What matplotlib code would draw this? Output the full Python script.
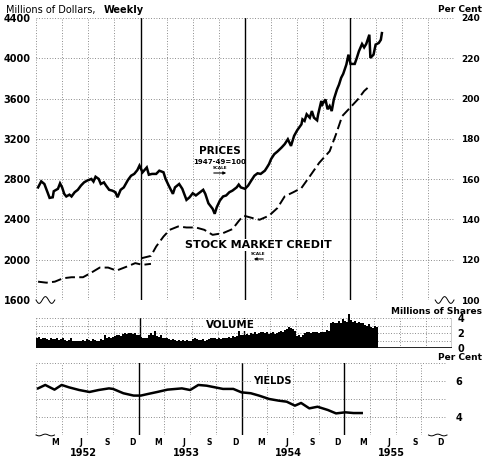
import numpy as np
import matplotlib.pyplot as plt

# ---- data ----
# common stock prices, 1947-49=100, weekly (right scale)
price_dates = [
    1952.02, 1952.05, 1952.08, 1952.11, 1952.13, 1952.16, 1952.17, 1952.21, 1952.23, 1952.25,
    1952.27, 1952.29, 1952.32, 1952.34, 1952.37, 1952.40, 1952.43, 1952.46, 1952.49, 1952.53,
    1952.55, 1952.57, 1952.60, 1952.62, 1952.65, 1952.67, 1952.70, 1952.73, 1952.76, 1952.78,
    1952.81, 1952.84, 1952.88, 1952.91, 1952.94, 1952.97, 1952.99, 1953.02, 1953.06, 1953.08,
    1953.11, 1953.15, 1953.18, 1953.22, 1953.24, 1953.27, 1953.31, 1953.33, 1953.37, 1953.40,
    1953.44, 1953.47, 1953.50, 1953.53, 1953.57, 1953.60, 1953.62, 1953.65, 1953.69, 1953.71,
    1953.73, 1953.76, 1953.79, 1953.82, 1953.85, 1953.88, 1953.92, 1953.94, 1953.96, 1954.00,
    1954.03, 1954.06, 1954.09, 1954.12, 1954.15, 1954.19, 1954.21, 1954.23, 1954.25, 1954.28,
    1954.31, 1954.35, 1954.38, 1954.41, 1954.44, 1954.47, 1954.50, 1954.54, 1954.55, 1954.57,
    1954.59, 1954.62, 1954.64, 1954.66, 1954.69, 1954.70, 1954.73, 1954.74, 1954.77, 1954.79,
    1954.81, 1954.83, 1954.85, 1954.88, 1954.90, 1954.92, 1954.94, 1954.97, 1954.99, 1955.01,
    1955.05, 1955.07, 1955.09, 1955.12, 1955.14, 1955.16, 1955.19, 1955.20, 1955.23, 1955.25,
    1955.28, 1955.30, 1955.31]
price_vals = [
    155.9, 158.9, 157.6, 153.5, 150.7, 151.0, 154.0, 155.2, 157.9, 155.9,
    152.7, 151.4, 152.3, 151.4, 153.5, 154.7, 156.8, 158.4, 159.3, 160.1,
    158.8, 161.2, 160.1, 157.6, 158.4, 156.8, 154.7, 154.3, 153.5, 151.0,
    154.7, 155.9, 159.6, 161.7, 162.6, 164.5, 166.7, 163.4, 165.8, 162.2,
    162.6, 162.6, 164.2, 163.4, 160.1, 156.8, 152.7, 155.9, 157.6, 155.2,
    149.7, 151.0, 153.0, 151.9, 153.5, 154.7, 152.7, 148.0, 145.3, 142.8,
    146.1, 149.4, 151.4, 151.9, 153.5, 154.3, 155.9, 157.3, 155.9, 155.2,
    156.8, 159.3, 161.7, 162.9, 162.6, 164.2, 165.8, 167.5, 170.0, 172.4,
    173.7, 175.7, 177.4, 179.8, 176.5, 181.5, 184.3, 187.2, 189.7, 188.9,
    192.2, 190.5, 193.8, 190.5, 189.2, 192.2, 198.8, 197.1, 199.6, 194.7,
    196.3, 193.8, 199.6, 204.5, 207.0, 210.3, 212.3, 216.9, 221.8, 217.2,
    217.2, 220.2, 223.5, 227.1, 225.4, 227.1, 231.7, 220.2, 221.8, 226.8,
    227.6, 229.2, 232.5]

# stock market credit, millions of dollars (left scale); old and revised series
credit_old_dates = [1952.02, 1952.10, 1952.18, 1952.26, 1952.34, 1952.45, 1952.52,
                    1952.61, 1952.69, 1952.77, 1952.87, 1952.95, 1953.02, 1953.10]
credit_old_vals = [1782, 1772, 1782, 1816, 1826, 1826, 1866,
                   1922, 1922, 1892, 1932, 1966, 1949, 1959]
credit_new_dates = [1953.01, 1953.10, 1953.15, 1953.22, 1953.28, 1953.36, 1953.44, 1953.53,
                    1953.61, 1953.69, 1953.79, 1953.88, 1953.95, 1953.99, 1954.07, 1954.14,
                    1954.23, 1954.31, 1954.38, 1954.46, 1954.54, 1954.62, 1954.71, 1954.81,
                    1954.87, 1954.93, 1954.99, 1955.08, 1955.14, 1955.20]
credit_new_vals = [2015, 2038, 2131, 2230, 2297, 2330, 2320, 2320,
                   2297, 2247, 2264, 2304, 2397, 2437, 2414, 2397,
                   2437, 2513, 2629, 2669, 2712, 2828, 2962, 3077,
                   3243, 3426, 3492, 3592, 3675, 3731]

# weekly trading volume, millions of shares
vol_1952 = [1.3, 1.5, 1.2, 1.4, 1.3, 1.2, 1.1, 1.3, 1.2, 1.2, 1.3, 1.1, 1.2,
            1.3, 1.1, 1.0, 1.1, 1.3, 1.0, 0.9, 1.0, 1.0, 1.0, 1.1, 1.0, 1.2,
            1.1, 1.0, 1.2, 1.1, 0.9, 1.0, 1.2, 1.1, 1.7, 1.3, 1.5, 1.4, 1.5,
            1.6, 1.7, 1.8, 1.6, 1.9, 2.0, 1.9, 2.0, 2.0, 1.9, 2.0, 1.8, 1.7]
vol_1953 = [1.5, 1.4, 1.3, 1.4, 1.8, 2.0, 1.7, 2.3, 1.6, 1.5, 1.7, 1.4, 1.3,
            1.3, 1.2, 1.1, 1.2, 1.1, 1.0, 1.1, 1.0, 1.1, 1.0, 1.1, 1.0, 1.0,
            1.2, 1.3, 1.2, 1.1, 1.1, 1.2, 1.0, 1.1, 1.2, 1.4, 1.3, 1.3, 1.2,
            1.3, 1.2, 1.4, 1.3, 1.4, 1.5, 1.4, 1.6, 1.5, 1.6, 2.4, 1.7, 1.8]
vol_1954 = [1.8, 1.9, 1.7, 2.0, 1.9, 2.1, 1.9, 2.0, 2.1, 2.2, 2.0, 2.1, 1.9,
            2.0, 2.1, 1.9, 2.0, 2.2, 2.3, 2.1, 2.4, 2.6, 2.8, 2.7, 2.5, 2.3,
            1.6, 1.7, 1.5, 1.8, 2.0, 2.1, 2.2, 2.0, 2.1, 2.1, 2.2, 2.0, 2.1,
            2.2, 2.2, 2.4, 2.3, 3.3, 3.5, 3.4, 3.3, 3.6, 3.4, 3.9, 3.6, 3.5]
vol_1955 = [4.6, 3.7, 3.5, 3.6, 3.4, 3.5, 3.3, 3.4, 3.1, 2.9, 3.2, 2.8, 2.7,
            3.0, 2.8]

# yields on common stocks, per cent, monthly
yield_dates = [1952.02, 1952.09, 1952.18, 1952.25, 1952.32, 1952.42, 1952.52, 1952.61,
               1952.71, 1952.75, 1952.85, 1952.95, 1953.02, 1953.09, 1953.18, 1953.28,
               1953.42, 1953.50, 1953.58, 1953.66, 1953.74, 1953.82, 1953.92, 1954.00,
               1954.09, 1954.17, 1954.27, 1954.36, 1954.44, 1954.52, 1954.58, 1954.66,
               1954.74, 1954.84, 1954.92, 1955.01, 1955.09, 1955.17]
yield_vals = [5.59, 5.78, 5.52, 5.78, 5.65, 5.50, 5.39, 5.50, 5.59, 5.56, 5.32, 5.19,
              5.19, 5.28, 5.39, 5.52, 5.59, 5.50, 5.78, 5.74, 5.65, 5.56, 5.56,
              5.37, 5.32, 5.19, 5.00, 4.91, 4.85, 4.63, 4.78, 4.48, 4.57, 4.39, 4.20,
              4.26, 4.22, 4.22]

years = [1952, 1953, 1954, 1955]
month_labels = ['M', 'J', 'S', 'D']
month_pos = [2.5, 5.5, 8.5, 11.5]   # mid-month, in months
dollar_ticks = [1600, 2000, 2400, 2800, 3200, 3600, 4000, 4400]
pct_ticks = [100, 120, 140, 160, 180, 200, 220, 240]
vol_ticks = [0, 2, 4]
yield_ticks = [4, 6]

# ---- layout ----
W, H = 483, 459
fig = plt.figure(figsize=(W / 100, H / 100), dpi=100)
plt.rcParams['font.family'] = 'DejaVu Sans'

def box(l, t, r, b):
    return [l / W, 1 - b / H, (r - l) / W, (b - t) / H]

def fxy(x, y):
    return x / W, 1 - y / H

DOT = dict(color='0.4', lw=0.6, ls=(0, (1, 2.2)))
SOLID = dict(color='black', lw=1.0)
x0, x1 = 1952, 1956

def frame(a, hlines):
    for s in a.spines.values():
        s.set_visible(False)
    a.set_xlim(x0, x1)
    for y in years + [1956]:
        for q in (0.25, 0.5, 0.75):
            if y + q < x1:
                a.axvline(y + q, **DOT)
    for y in (1953, 1954, 1955):
        a.axvline(y, **SOLID)
    a.axvline(x0, **DOT)
    a.axvline(x1, **DOT)
    for h in hlines:
        a.axhline(h, **DOT)
    a.set_xticks([])

def squiggle(a, left=True):
    t = np.linspace(0, 1, 40)
    if left:
        xs = 0.0 + 0.045 * t
    else:
        xs = 0.955 + 0.045 * t
    ys = -0.012 * np.sin(t * 2 * np.pi * 1.5)
    a.plot(xs, ys, transform=a.transAxes, color='black', lw=0.7, clip_on=False)

def bold_ticks(a):
    for lb in a.get_yticklabels():
        lb.set_fontweight('bold')

# main panel
ax = fig.add_axes(box(36, 18, 454, 300))
ax.set_ylim(1600, 4400)
frame(ax, dollar_ticks)
squiggle(ax, True)
squiggle(ax, False)
ax.set_yticks(dollar_ticks)
ax.tick_params(axis='y', length=0, pad=4, labelsize=7)
bold_ticks(ax)

ax.plot(credit_old_dates, credit_old_vals, color='black', lw=1.4, ls=(0, (5, 2.2)))
ax.plot(credit_new_dates, credit_new_vals, color='black', lw=1.4, ls=(0, (5, 2.2)))

axp = ax.twinx()
for s in axp.spines.values():
    s.set_visible(False)
axp.set_ylim(100, 240)
axp.set_yticks(pct_ticks)
axp.tick_params(axis='y', length=0, pad=5, labelsize=6.5)
bold_ticks(axp)
axp.plot(price_dates, price_vals, color='black', lw=1.8, solid_joinstyle='miter')

# volume panel
axv = fig.add_axes(box(36, 318, 452, 348))
axv.set_ylim(0, 4)
frame(axv, [1, 2, 3, 4])
vol = vol_1952 + vol_1953 + vol_1954 + vol_1955
vol_x = x0 + (np.arange(len(vol)) + 0.5) / 52
axv.bar(vol_x, vol, width=0.75 / 52, color='black', clip_on=False, zorder=3)
axv.axhline(0, color='black', lw=1.2, zorder=4)
axv.axvline(x1, color='black', lw=1.0)
axv.yaxis.tick_right()
axv.set_yticks(vol_ticks)
axv.tick_params(axis='y', length=0, pad=4, labelsize=7)
bold_ticks(axv)

# yields panel
axy = fig.add_axes(box(36, 363, 447, 435))
axy.set_ylim(3, 7)
frame(axy, [4, 5, 6, 7])
squiggle(axy, True)
squiggle(axy, False)
axy.plot(yield_dates, yield_vals, color='black', lw=1.8)
axy.yaxis.tick_right()
axy.set_yticks(yield_ticks)
axy.tick_params(axis='y', length=0, pad=6, labelsize=7)
bold_ticks(axy)
mpos = [y + (m / 12) - 0.02 for y in years for m in month_pos]
axy.set_xticks(mpos)
axy.set_xticklabels(month_labels * len(years), fontsize=5.5, fontweight='bold')
axy.tick_params(axis='x', length=0, pad=2.5)
for y in years:
    axy.text(y + 0.46, -0.25, str(y), transform=axy.get_xaxis_transform(),
             ha='center', va='center', fontsize=7, fontweight='bold')

# text labels
bold = dict(fontweight='bold', color='black')
fig.text(*fxy(6, 10), 'Millions of Dollars,', fontsize=7, va='center', ha='left')
fig.text(*fxy(104, 10), 'Weekly', fontsize=7, va='center', ha='left', **bold)
fig.text(*fxy(482, 10), 'Per Cent', fontsize=6.5, va='center', ha='right', **bold)
fig.text(*fxy(482, 311), 'Millions of Shares', fontsize=6.5, va='center', ha='right', **bold)
fig.text(*fxy(482, 357), 'Per Cent', fontsize=6.5, va='center', ha='right', **bold)

fig.text(*fxy(220, 151), 'PRICES', fontsize=7.5, ha='center', va='center', **bold)
fig.text(*fxy(220, 162), '1947-49=100', fontsize=5, ha='center', va='center', **bold)
fig.text(*fxy(220, 168), 'SCALE', fontsize=3, ha='center', va='center', **bold)
ax.annotate('', xy=fxy(229, 173), xytext=fxy(211, 173), xycoords='figure fraction',
            textcoords='figure fraction',
            arrowprops=dict(arrowstyle='-|>', color='black', lw=0.8, mutation_scale=4))
fig.text(*fxy(258, 245), 'STOCK MARKET CREDIT', fontsize=8, ha='center', va='center',
         bbox=dict(facecolor='white', edgecolor='none', pad=1), **bold)
fig.text(*fxy(258, 254), 'SCALE', fontsize=3, ha='center', va='center', **bold)
ax.annotate('', xy=fxy(251, 259), xytext=fxy(266, 259), xycoords='figure fraction',
            textcoords='figure fraction',
            arrowprops=dict(arrowstyle='-|>', color='black', lw=0.8, mutation_scale=4))
fig.text(*fxy(230, 325), 'VOLUME', fontsize=7.5, ha='center', va='center',
         bbox=dict(facecolor='white', edgecolor='none', pad=1), zorder=10, **bold)
fig.text(*fxy(272, 381), 'YIELDS', fontsize=7, ha='center', va='center',
         bbox=dict(facecolor='white', edgecolor='none', pad=1), zorder=10, **bold)

fig.savefig('out.png', dpi=100)
